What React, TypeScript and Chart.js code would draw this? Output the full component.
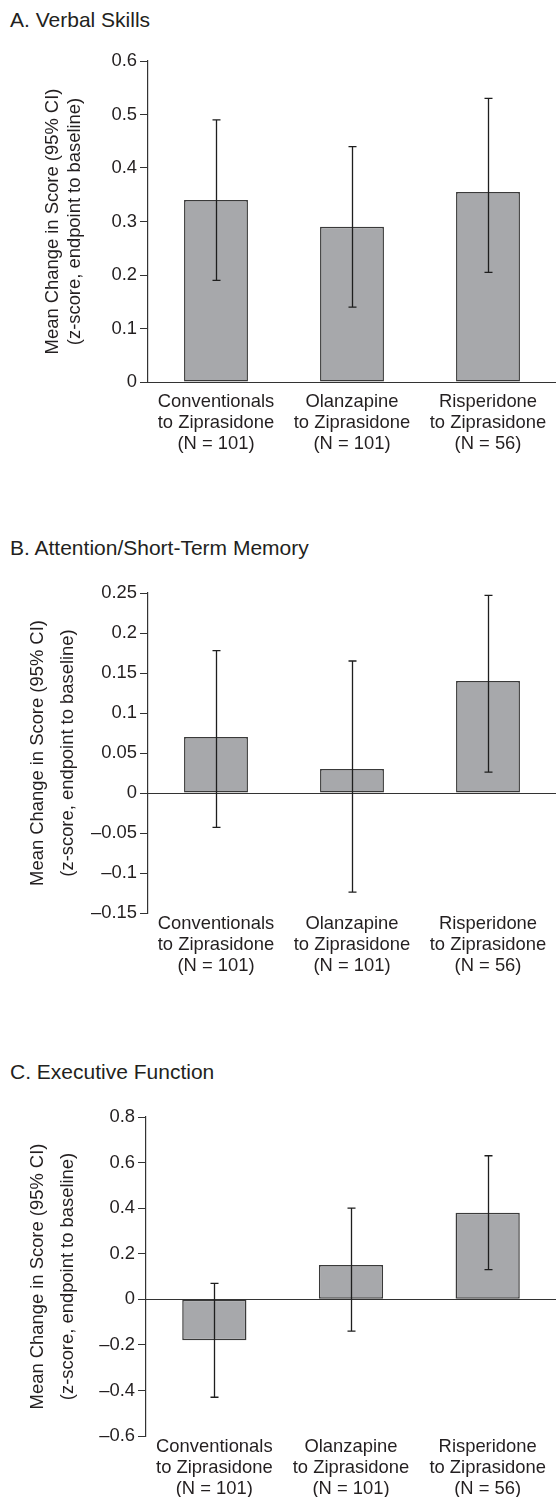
import React, { useEffect, useRef } from 'react';
import { Chart, registerables } from 'chart.js';

Chart.register(...registerables);

// ---------- data ----------
const categories: string[][] = [
  ['Conventionals', 'to Ziprasidone', '(N = 101)'],
  ['Olanzapine', 'to Ziprasidone', '(N = 101)'],
  ['Risperidone', 'to Ziprasidone', '(N = 56)'],
];

const yAxisTitle = ['Mean Change in Score (95% CI)', '(z-score, endpoint to baseline)'];

const verbalMeans = [0.34, 0.29, 0.355];
const verbalLower = [0.19, 0.14, 0.205];
const verbalUpper = [0.49, 0.44, 0.53];
const verbalTicks = [0, 0.1, 0.2, 0.3, 0.4, 0.5, 0.6];
const verbalTickLabels = ['0', '0.1', '0.2', '0.3', '0.4', '0.5', '0.6'];

const attentionMeans = [0.07, 0.03, 0.14];
const attentionLower = [-0.043, -0.124, 0.026];
const attentionUpper = [0.178, 0.165, 0.247];
const attentionTicks = [-0.15, -0.1, -0.05, 0, 0.05, 0.1, 0.15, 0.2, 0.25];
const attentionTickLabels = ['–0.15', '–0.1', '–0.05', '0', '0.05', '0.1', '0.15', '0.2', '0.25'];

const executiveMeans = [-0.18, 0.15, 0.38];
const executiveLower = [-0.43, -0.14, 0.13];
const executiveUpper = [0.07, 0.4, 0.63];
const executiveTicks = [-0.6, -0.4, -0.2, 0, 0.2, 0.4, 0.6, 0.8];
const executiveTickLabels = ['–0.6', '–0.4', '–0.2', '0', '0.2', '0.4', '0.6', '0.8'];

const FONT = "'Liberation Sans', Arial, Helvetica, sans-serif";
const TEXT = '#231f20';
const LINE = '#333333';
const BAR_FILL = '#a7a8ab';

const errorBarPlugin = {
  id: 'errorBars',
  afterDatasetsDraw(chart: any, _args: any, opts: any) {
    const { ctx, chartArea } = chart;
    const y = chart.scales.y;
    const y0 = Math.round(y.getPixelForValue(0)) + 0.5;
    ctx.save();
    ctx.strokeStyle = LINE;
    ctx.lineWidth = 1.2;
    ctx.beginPath();
    ctx.moveTo(chartArea.left, y0);
    ctx.lineTo(chart.width, y0);
    ctx.stroke();
    const meta = chart.getDatasetMeta(0);
    ctx.strokeStyle = '#1e1e1e';
    ctx.lineWidth = 1.3;
    (opts.lower as number[]).forEach((lo: number, i: number) => {
      const hi = opts.upper[i];
      const cx = Math.round(meta.data[i].x) + 0.5;
      const yl = y.getPixelForValue(lo);
      const yh = y.getPixelForValue(hi);
      const cap = 4;
      ctx.beginPath();
      ctx.moveTo(cx, yl);
      ctx.lineTo(cx, yh);
      ctx.moveTo(cx - cap, yl);
      ctx.lineTo(cx + cap, yl);
      ctx.moveTo(cx - cap, yh);
      ctx.lineTo(cx + cap, yh);
      ctx.stroke();
    });
    ctx.restore();
  },
};

type PanelProps = {
  top: number;
  height: number;
  means: number[];
  lower: number[];
  upper: number[];
  ticks: number[];
  tickLabels: string[];
  padTop: number;
  padRight: number;
  yWidth: number;
  xHeight: number;
  xPad: number;
  titlePad: number;
  titleLineHeight: number;
};

function Panel(p: PanelProps) {
  const ref = useRef<HTMLCanvasElement | null>(null);
  useEffect(() => {
    if (!ref.current) return;
    const chart = new Chart(ref.current, {
      type: 'bar',
      data: {
        labels: categories as any,
        datasets: [
          {
            data: p.means,
            backgroundColor: BAR_FILL,
            borderColor: '#3a3a3a',
            borderWidth: 1.5,
            borderSkipped: false,
            barPercentage: 0.47,
            categoryPercentage: 1,
          },
        ],
      },
      plugins: [errorBarPlugin],
      options: {
        responsive: false,
        animation: false,
        layout: { padding: { top: p.padTop, right: p.padRight, bottom: 0, left: 0 } },
        plugins: {
          legend: { display: false },
          tooltip: { enabled: false },
          title: { display: false },
          errorBars: { lower: p.lower, upper: p.upper },
        } as any,
        scales: {
          x: {
            type: 'category',
            grid: { display: false, drawTicks: false },
            border: { display: false },
            ticks: {
              color: TEXT,
              font: { family: FONT, size: 18.4, lineHeight: 1.15 },
              padding: p.xPad,
              maxRotation: 0,
              autoSkip: false,
            },
            afterFit: (s: any) => {
              s.height = p.xHeight;
            },
          },
          y: {
            min: p.ticks[0],
            max: p.ticks[p.ticks.length - 1],
            afterBuildTicks: (s: any) => {
              s.ticks = p.ticks.map((v) => ({ value: v }));
            },
            ticks: {
              color: TEXT,
              font: { family: FONT, size: 18.4 },
              padding: 3,
              callback: (_v: any, i: number) => p.tickLabels[i],
            },
            grid: { drawOnChartArea: false, drawTicks: true, tickLength: 8, color: LINE, lineWidth: 1 },
            border: { display: true, color: LINE, width: 1.2 },
            title: {
              display: true,
              text: yAxisTitle,
              color: TEXT,
              font: { family: FONT, size: 18.4, lineHeight: p.titleLineHeight },
              padding: { top: p.titlePad, bottom: 0 },
            },
            afterFit: (s: any) => {
              s.width = p.yWidth;
            },
          },
        },
      } as any,
    });
    return () => chart.destroy();
  }, []);
  return (
    <canvas
      ref={ref}
      width={556}
      height={p.height}
      style={{ position: 'absolute', left: 0, top: p.top, width: 556, height: p.height }}
    />
  );
}

const titleStyle = (top: number): React.CSSProperties => ({
  position: 'absolute',
  left: 10,
  top,
  fontFamily: FONT,
  fontSize: 21,
  lineHeight: '24px',
  color: TEXT,
  whiteSpace: 'nowrap',
});

export default function App() {
  useEffect(() => {
    document.body.style.margin = '0';
  }, []);
  return (
    <div style={{ position: 'relative', width: 556, height: 1497, background: '#fff', overflow: 'hidden' }}>
      <div style={titleStyle(8)}>A. Verbal Skills</div>
      <Panel
        top={0}
        height={470}
        means={verbalMeans}
        lower={verbalLower}
        upper={verbalUpper}
        ticks={verbalTicks}
        tickLabels={verbalTickLabels}
        padTop={61}
        padRight={0}
        yWidth={148}
        xHeight={88}
        xPad={9}
        titlePad={42}
        titleLineHeight={1.2}
      />
      <div style={titleStyle(536)}>B. Attention/Short-Term Memory</div>
      <Panel
        top={530}
        height={450}
        means={attentionMeans}
        lower={attentionLower}
        upper={attentionUpper}
        ticks={attentionTicks}
        tickLabels={attentionTickLabels}
        padTop={63}
        padRight={-7}
        yWidth={148}
        xHeight={67}
        xPad={0}
        titlePad={23}
        titleLineHeight={1.63}
      />
      <div style={titleStyle(1060)}>C. Executive Function</div>
      <Panel
        top={1040}
        height={457}
        means={executiveMeans}
        lower={executiveLower}
        upper={executiveUpper}
        ticks={executiveTicks}
        tickLabels={executiveTickLabels}
        padTop={77}
        padRight={-4}
        yWidth={146}
        xHeight={61}
        xPad={0}
        titlePad={23}
        titleLineHeight={1.63}
      />
    </div>
  );
}
